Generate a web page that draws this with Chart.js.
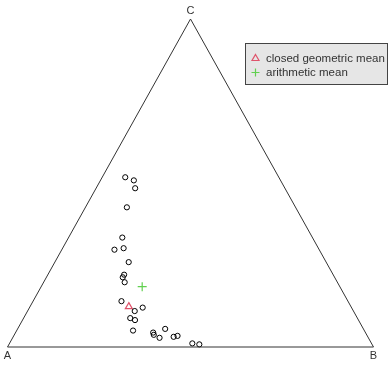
<!DOCTYPE html>
<html>
<head>
<meta charset="utf-8">
<script src="https://cdn.jsdelivr.net/npm/chart.js@4"></script>
<style>
  html, body { margin: 0; padding: 0; background: #fff; }
  #wrap { width: 391px; height: 372px; }
</style>
</head>
<body>
<div id="wrap"><canvas id="myChart" width="391" height="372"></canvas></div>
<script>
// compositions (parts A, B, C) of each sample
var partA = [0.42, 0.40, 0.41, 0.46, 0.52, 0.56, 0.53, 0.54, 0.57, 0.58, 0.58, 0.62, 0.60,
             0.57, 0.62, 0.61, 0.63, 0.58, 0.58, 0.54, 0.57, 0.53, 0.52, 0.49, 0.47];
var partB = [0.063, 0.091, 0.107, 0.113, 0.147, 0.144, 0.166, 0.202, 0.208, 0.209, 0.221, 0.242, 0.294,
             0.309, 0.291, 0.307, 0.317, 0.376, 0.380, 0.402, 0.401, 0.438, 0.449, 0.500, 0.518];
var partC = [0.518, 0.507, 0.485, 0.425, 0.334, 0.297, 0.300, 0.259, 0.220, 0.213, 0.197, 0.140, 0.110,
             0.120, 0.088, 0.082, 0.050, 0.044, 0.037, 0.055, 0.028, 0.031, 0.034, 0.011, 0.008];

// means [A, B, C]
var geoMean = [0.607, 0.270, 0.123];
var ariMean = [0.540, 0.276, 0.184];

var vertexLabels = ['A', 'B', 'C'];
var legendLabels = ['closed geometric mean', 'arithmetic mean'];

// ternary -> plot coords (C on top, A left, B right)
function toXY(a, b, c) {
  var s = a + b + c;
  return { x: (b + c / 2) / s, y: c / s };
}

var samples = partA.map(function (a, i) { return toXY(a, partB[i], partC[i]); });
var frame = [{ x: 0, y: 0 }, { x: 1, y: 0 }, { x: 0.5, y: 1 }, { x: 0, y: 0 }];

var FONT = '11px "Liberation Sans", Arial, sans-serif';
var LEGEND_FONT = '11.5px "Liberation Sans", Arial, sans-serif';
var RED = '#DF536B';
var GREEN = '#61D04F';

// vertex labels and legend box
var ternaryDecor = {
  id: 'ternaryDecor',
  afterDraw: function (chart) {
    var c = chart.ctx;
    var sx = chart.scales.x, sy = chart.scales.y;
    c.save();
    c.font = FONT;
    c.fillStyle = '#333';
    c.textAlign = 'center';
    c.textBaseline = 'middle';
    c.fillText(vertexLabels[0], sx.getPixelForValue(0), sy.getPixelForValue(0) + 9);
    c.fillText(vertexLabels[1], sx.getPixelForValue(1), sy.getPixelForValue(0) + 9);
    c.fillText(vertexLabels[2], sx.getPixelForValue(0.5), sy.getPixelForValue(1) - 8);

    // legend
    c.fillStyle = '#e6e6e6';
    c.fillRect(245.5, 43.5, 142, 41);
    c.strokeStyle = '#444';
    c.lineWidth = 1;
    c.strokeRect(245.5, 43.5, 142, 41);

    c.font = LEGEND_FONT;
    c.textAlign = 'left';
    c.fillStyle = '#333';
    c.fillText(legendLabels[0], 266, 58.5);
    c.fillText(legendLabels[1], 266, 72.5);

    // triangle symbol
    c.strokeStyle = RED;
    c.lineWidth = 1.2;
    c.beginPath();
    c.moveTo(255.5, 54.5);
    c.lineTo(259, 60.5);
    c.lineTo(252, 60.5);
    c.closePath();
    c.stroke();
    // plus symbol
    c.strokeStyle = GREEN;
    c.beginPath();
    c.moveTo(251.5, 72.5); c.lineTo(259.5, 72.5);
    c.moveTo(255.5, 68.5); c.lineTo(255.5, 76.5);
    c.stroke();
    c.restore();
  }
};

var ctx = document.getElementById('myChart').getContext('2d');

var myChart = new Chart(ctx, {
  type: 'scatter',
  data: {
    datasets: [
      {
        label: 'frame',
        data: frame,
        showLine: true,
        borderColor: '#333',
        borderWidth: 1,
        pointRadius: 0,
        clip: false
      },
      {
        label: 'samples',
        data: samples,
        pointStyle: 'circle',
        pointRadius: 2.6,
        borderColor: '#000',
        borderWidth: 1,
        backgroundColor: 'rgba(0,0,0,0)',
        clip: false
      },
      {
        label: legendLabels[0],
        data: [toXY(geoMean[0], geoMean[1], geoMean[2])],
        pointStyle: 'triangle',
        pointRadius: 4,
        borderColor: RED,
        borderWidth: 1.2,
        backgroundColor: 'rgba(0,0,0,0)',
        clip: false
      },
      {
        label: legendLabels[1],
        data: [toXY(ariMean[0], ariMean[1], ariMean[2])],
        pointStyle: 'cross',
        pointRadius: 4.5,
        borderColor: GREEN,
        borderWidth: 1.2,
        clip: false
      }
    ]
  },
  options: {
    responsive: false,
    animation: false,
    layout: { padding: { left: 7.5, right: 17.5, top: 19, bottom: 25 } },
    scales: {
      x: { type: 'linear', min: 0, max: 1, display: false },
      y: { type: 'linear', min: 0, max: 1, display: false }
    },
    plugins: {
      legend: { display: false },
      tooltip: { enabled: false }
    }
  },
  plugins: [ternaryDecor]
});
</script>
</body>
</html>
